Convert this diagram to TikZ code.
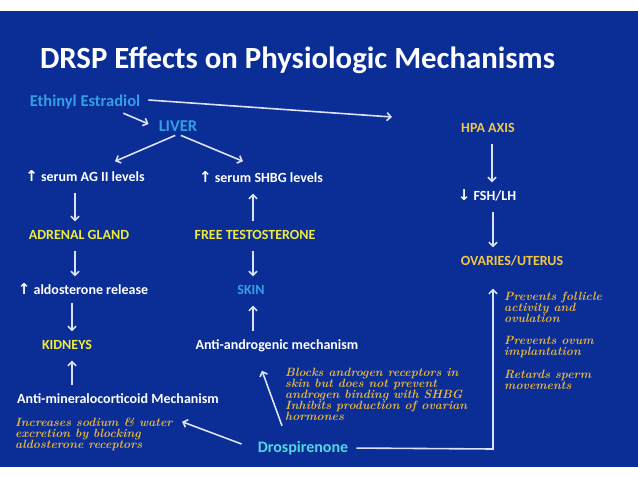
\documentclass[tikz,border=0pt]{standalone}
\usepackage{fontspec}
\newfontfamily\calf{Carlito}
\newfontfamily\dvf{DejaVu Sans}
\usetikzlibrary{arrows.meta}
\definecolor{bgblue}{RGB}{10,45,150}
\definecolor{lblue}{RGB}{50,160,230}
\definecolor{yel}{RGB}{238,234,62}
\definecolor{goldc}{RGB}{240,200,70}
\definecolor{handc}{RGB}{232,182,62}
\definecolor{cyanc}{RGB}{80,215,225}
\definecolor{arrowc}{RGB}{220,226,245}
\newcommand\upa{{\dvf\bfseries\fontsize{15}{14}\selectfont ↑}}
\newcommand\dna{{\dvf\bfseries\fontsize{15}{14}\selectfont ↓}}
\begin{document}
\begin{tikzpicture}[x=1pt,y=-1pt,
  lbl/.style={inner sep=0, text height=10pt, text depth=3pt, font=\calf\bfseries\fontsize{14}{16}\selectfont},
  biglbl/.style={lbl, text height=11pt, font=\calf\bfseries\fontsize{16.5}{18}\selectfont},
  arr/.style={draw=arrowc, line width=1.6pt, -{Straight Barb[length=4pt,width=8pt]}},
  vert/.style={arr, shorten <=8pt, shorten >=8pt},
  handt/.style={inner sep=0, align=left, anchor=north west, text=handc, font=\rmfamily\bfseries\itshape\fontsize{12}{11}\selectfont}]
\useasboundingbox (0,0) rectangle (638,479);
\fill[white] (0,0) rectangle (638,479);
\fill[bgblue] (0,11) rectangle (638,467);
% title
\node[anchor=base, inner sep=0, text=white, font=\calf\bfseries\fontsize{30.8}{34}\selectfont] (title) at (297.5,68) {DRSP Effects on Physiologic Mechanisms};
% nodes
\node[biglbl, text=lblue] (ee) at (85,102) {Ethinyl Estradiol};
\node[biglbl, text=lblue] (liver) at (178,127) {LIVER};
\node[lbl, text=white] (ag) at (85,178) {\upa\ serum AG II levels};
\node[lbl, text=white] (shbg) at (261,179) {\upa\ serum SHBG levels};
\node[lbl, text=yel] (adrenal) at (79,236) {ADRENAL GLAND};
\node[lbl, text=yel] (freet) at (255,236) {FREE TESTOSTERONE};
\node[lbl, text=white] (aldo) at (83,291) {\upa\ aldosterone release};
\node[lbl, text=lblue] (skin) at (251,291) {SKIN};
\node[lbl, text=yel] (kidneys) at (67,346) {KIDNEYS};
\node[lbl, text=white] (antiandro) at (277,346) {Anti-androgenic mechanism};
\node[lbl, text=white] (antimin) at (118,400) {Anti-mineralocorticoid Mechanism};
\node[biglbl, text=cyanc, font=\calf\bfseries\fontsize{16}{18}\selectfont] (dros) at (303,448) {Drospirenone};
\node[lbl, text=goldc] (hpa) at (488,129) {HPA AXIS};
\node[lbl, text=white] (fsh) at (487,197) {\dna\ FSH/LH};
\node[lbl, text=goldc] (ov) at (512,262) {OVARIES/UTERUS};
% handwritten notes
\node[handt] (inc) at (15,418) {Increases sodium \& water\\excretion by blocking\\aldosterone receptors};
\node[handt] (blocks) at (285,368) {Blocks androgen receptors in\\skin but does not prevent\\androgen binding with SHBG\\Inhibits production of ovarian\\hormones};
\node[handt] (prev1) at (504,292) {Prevents follicle\\activity and\\ovulation};
\node[handt] (prev2) at (504,336) {Prevents ovum\\implantation};
\node[handt] (prev3) at (504,370) {Retards sperm\\movements};
% connectors
\coordinate (eeend) at (392,117);
\coordinate (corner) at (493,449);
\draw[arr] ([xshift=8pt,yshift=2pt]ee.east) -- (eeend);
\draw[arr] ([xshift=-17pt,yshift=-4pt]ee.south east) -- ([xshift=-10pt,yshift=3pt]liver.west);
\draw[arr, shorten <=3pt] (liver.south) -- ([xshift=30pt,yshift=10pt]ag.north);
\draw[arr, shorten <=3pt] (liver.south) -- ([xshift=-18pt,yshift=11pt]shbg.north);
\draw[vert] ([xshift=-10pt]ag.south) -- ([xshift=-4pt]adrenal.north);
\draw[vert] ([xshift=-2pt]freet.north) -- ([xshift=-8pt]shbg.south);
\draw[vert] ([xshift=-4pt]adrenal.south) -- ([xshift=-8pt]aldo.north);
\draw[vert] ([xshift=-2pt]freet.south) -- ([xshift=2pt]skin.north);
\draw[vert, shorten <=5pt] ([xshift=-11pt]aldo.south) -- ([xshift=5pt]kidneys.north);
\draw[vert] ([xshift=-24pt]antiandro.north) -- ([xshift=2pt]skin.south);
\draw[vert] ([xshift=-46pt]antimin.north) -- ([xshift=5pt]kidneys.south);
\draw[vert] ([xshift=4pt]hpa.south) -- ([xshift=5pt]fsh.north);
\draw[vert] ([xshift=6pt]fsh.south) -- ([xshift=-19pt]ov.north);
\draw[arr] ([xshift=-16pt,yshift=4pt]dros.west) -- ([xshift=-37pt,yshift=-15pt]antimin.south east);
\draw[arr] ([xshift=-21pt,yshift=15pt]dros.north) -- ([xshift=-15pt,yshift=-18pt]antiandro.south);
\draw[arr, shorten <=8pt, shorten >=20pt] (dros.east) -- (corner) -- (corner |- ov.south);
\end{tikzpicture}
\end{document}
